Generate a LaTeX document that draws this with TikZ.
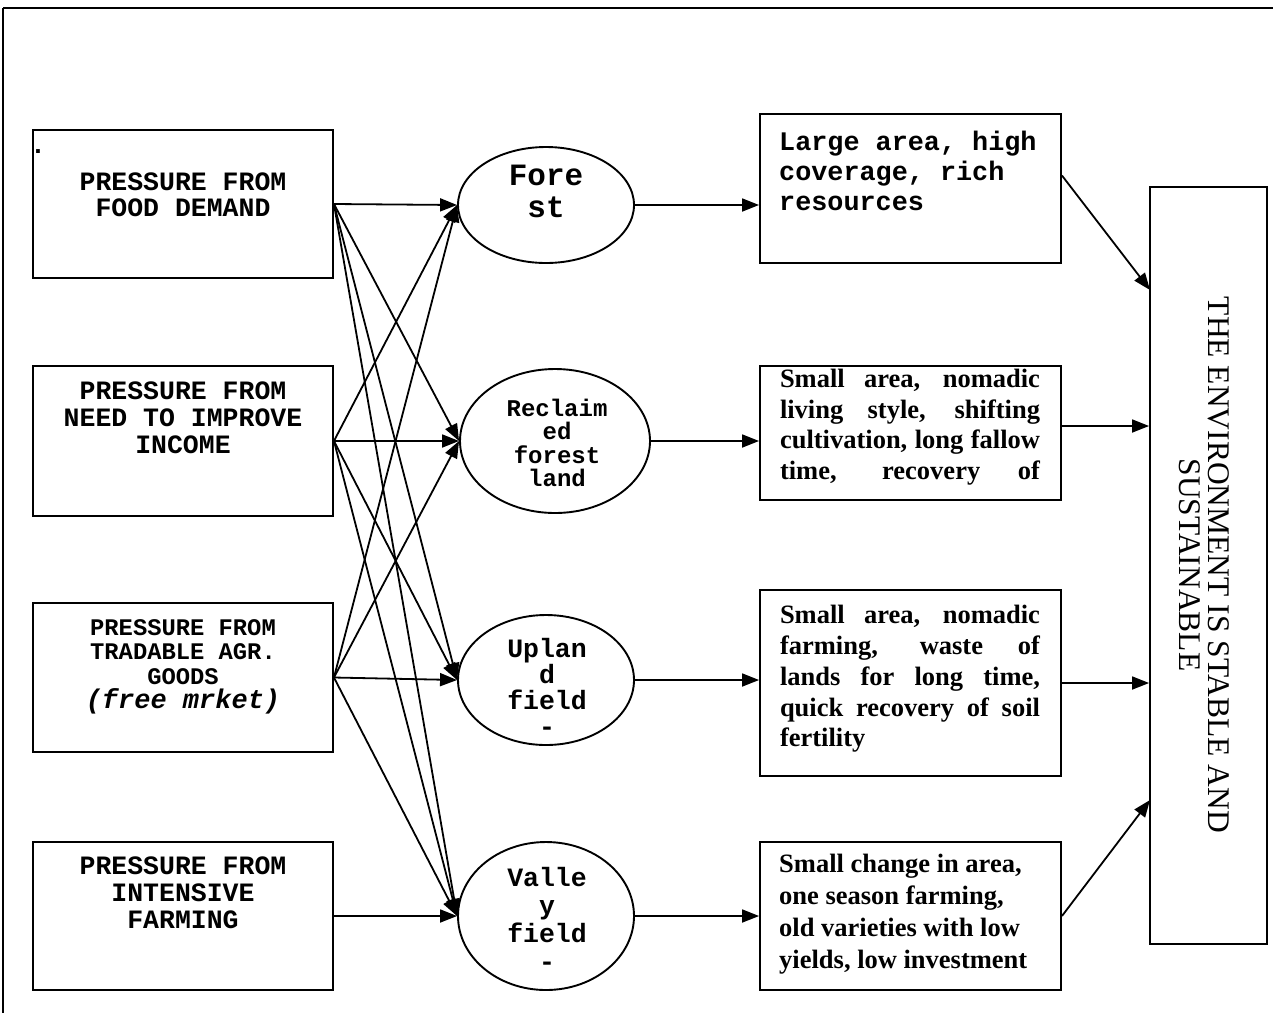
\documentclass[tikz,border=0pt]{standalone}
\usepackage{fontspec}
\setmainfont{Liberation Serif}
\setmonofont{Liberation Mono}
\usetikzlibrary{shapes.geometric,arrows.meta}

\begin{document}
\begin{tikzpicture}[x=1pt,y=-1pt,
    pbox/.style={draw, line width=1.9pt, minimum width=300pt, minimum height=#1, inner sep=0pt},
    rbox/.style={draw, line width=1.9pt, minimum width=301pt, minimum height=#1, inner sep=0pt},
    land/.style 2 args={draw, ellipse, line width=1.9pt, minimum width=#1, minimum height=#2, inner sep=0pt},
    mono/.style 2 args={font=\fontsize{#1}{#2}\selectfont\ttfamily\bfseries, align=center, inner sep=0pt},
    serif/.style 2 args={font=\fontsize{#1}{#2}\selectfont\bfseries, align=left, inner sep=0pt},
    link/.style={line width=1.8pt, -{Triangle[length=17pt,width=13pt]}}]
  \useasboundingbox (0,0) rectangle (1273,1013);
  \draw[line width=2.6pt] (3,8) -- (1273,8);
  \draw[line width=1.8pt] (3,8) -- (3,1013);

  % pressures
  \node[pbox=148pt] (food) at (183,204) {};
  \node[pbox=150pt] (income) at (183,441) {};
  \node[pbox=149pt] (trade) at (183,677.5) {};
  \node[pbox=148pt] (intensive) at (183,916) {};
  \node[mono={26.5}{26.5}] (fooddot) at (38,152) {.};
  \node[mono={26.5}{26.5}] (foodtxt) at (183,195) {PRESSURE FROM\\FOOD DEMAND};
  \node[mono={26.5}{27}] (incometxt) at (183,418) {PRESSURE FROM\\NEED TO IMPROVE\\INCOME};
  \node[mono={23.8}{24.5}] (tradetxt) at (183,667) {PRESSURE FROM\\TRADABLE AGR.\\GOODS\\{\fontsize{27}{26}\selectfont\itshape (free mrket)}};
  \node[mono={26.5}{27}] (intensivetxt) at (183,893) {PRESSURE FROM\\INTENSIVE\\FARMING};

  % land types
  \node[land={176pt}{116pt}] (forest) at (546,205) {};
  \node[land={190pt}{144pt}] (reclaim) at (555,441) {};
  \node[land={176pt}{130pt}] (upland) at (546,680) {};
  \node[land={176pt}{148pt}] (valley) at (546,916) {};
  \node[mono={31}{32}] (foresttxt) at (546,191) {Fore\\st};
  \node[mono={24}{23.5}] (reclaimtxt) at (557,443) {Reclaim\\ed\\forest\\land};
  \node[mono={26.5}{26}] (uplandtxt) at (547,687) {Uplan\\d\\field\\-};
  \node[mono={26.5}{28}] (valleytxt) at (547,919) {Valle\\y\\field\\-};

  % results
  \node[rbox=149pt] (res1) at (910.5,188.5) {};
  \node[rbox=134pt] (res2) at (910.5,433) {};
  \node[rbox=186pt] (res3) at (910.5,683) {};
  \node[rbox=148pt] (res4) at (910.5,916) {};
  \node[mono={26.8}{30}, align=left, anchor=west] (res1txt) at (779,171) {Large area, high\\coverage, rich\\resources};
  \node[serif={26.5}{30.5}] (res2txt) at (910,427) {\makebox[260pt][s]{Small area, nomadic}\\\makebox[260pt][s]{living style, shifting}\\\makebox[260pt][s]{cultivation, long fallow}\\\makebox[260pt][s]{time, recovery of}};
  \node[serif={26.5}{30.8}] (res3txt) at (910,679) {\makebox[260pt][s]{Small area, nomadic}\\\makebox[260pt][s]{farming, waste of}\\\makebox[260pt][s]{lands for long time,}\\\makebox[260pt][s]{quick recovery of soil}\\\makebox[260pt][l]{fertility}};
  \node[serif={26.5}{32}, anchor=west] (res4txt) at (779,914) {Small change in area,\\one season farming,\\old varieties with low\\yields, low investment};

  % outcome
  \node[draw, line width=1.9pt, minimum width=117pt, minimum height=757pt, inner sep=0pt] (env) at (1208.5,565.5) {};
  \node[rotate=-90, font=\fontsize{31.5}{29}\selectfont, align=center, inner sep=0pt] (envtxt) at (1204,565) {THE ENVIRONMENT IS STABLE AND\\SUSTAINABLE};
  \coordinate (envtop) at (1150,290);
  \coordinate (envbot) at (1150,800);

  \foreach \s/\t in {food/forest, food/reclaim, food/upland, food/valley,
                     income/forest, income/reclaim, income/upland, income/valley,
                     trade/forest, trade/reclaim, trade/upland, trade/valley,
                     intensive/valley}
    \draw[link] (\s.east) -- (\t.west);

  \draw[link] (forest.east) -- (forest.east -| res1.west);
  \draw[link] (reclaim.east) -- (reclaim.east -| res2.west);
  \draw[link] (upland.east) -- (upland.east -| res3.west);
  \draw[link] (valley.east) -- (valley.east -| res4.west);
  \draw[link] ([yshift=13pt]res1.east) -- (envtop);
  \draw[link] ([yshift=7pt]res2.east) -- ([yshift=7pt]res2.east -| env.west);
  \draw[link] (res3.east) -- (res3.east -| env.west);
  \draw[link] (res4.east) -- (envbot);
\end{tikzpicture}
\end{document}
